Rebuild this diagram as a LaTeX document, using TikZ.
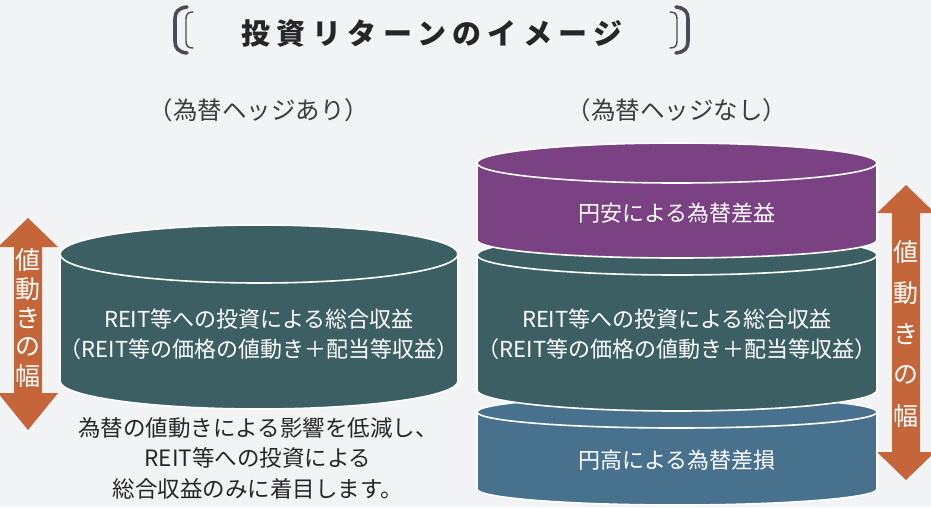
\documentclass[tikz,border=0pt]{standalone}
\usepackage{fontspec}
\setmainfont{Noto Sans CJK JP}
\newfontfamily\jptitle[LetterSpace=22]{Noto Sans CJK JP}
\definecolor{bgc}{HTML}{F2F3F5}
\definecolor{tealc}{HTML}{3C5F64}
\definecolor{purpc}{HTML}{7A4282}
\definecolor{bluec}{HTML}{48718D}
\definecolor{orngc}{HTML}{C4663A}
\definecolor{brk}{HTML}{4B4B57}
\definecolor{txtc}{HTML}{262626}
% cylinder: cx, top centre y, bottom centre y, rx, ry(top), ry(bottom), colour
\newcommand{\mycyl}[7]{%
  \filldraw[fill=#7, draw=white, line width=1.6pt, line join=round]
    ({#1-#4},#2) -- ({#1-#4},#3)
    arc[start angle=180, end angle=360, x radius=#4pt, y radius=#6pt]
    -- ({#1+#4},#2)
    arc[start angle=0, end angle=180, x radius=#4pt, y radius=#5pt] -- cycle;
  \draw[white, line width=1.6pt] ({#1-#4},#2)
    arc[start angle=180, end angle=360, x radius=#4pt, y radius=#5pt];
}
% double arrow: cx, top tip, top base, bottom base, bottom tip, shaft half, head half
\newcommand{\myarrow}[7]{%
  \fill[orngc] (#1,#2) -- ({#1+#7},#3) -- ({#1+#6},#3) -- ({#1+#6},#4)
    -- ({#1+#7},#4) -- (#1,#5) -- ({#1-#7},#4) -- ({#1-#6},#4)
    -- ({#1-#6},#3) -- ({#1-#7},#3) -- cycle;
}
\begin{document}
\begin{tikzpicture}[x=1pt,y=-1pt,
  every node/.style={inner sep=0pt},
  titletxt/.style={font=\jptitle\bfseries\fontsize{29pt}{32pt}\selectfont, text=txtc},
  subtxt/.style={font=\fontsize{24.5pt}{28pt}\selectfont, text=txtc!90!white},
  cyltxt/.style={font=\fontsize{22pt}{30pt}\selectfont, text=white, align=center},
  notetxt/.style={font=\fontsize{22.5pt}{30.5pt}\selectfont, text=txtc, align=center},
  arrtxt/.style={font=\fontsize{25pt}{26pt}\selectfont, text=white}]
\fill[bgc] (0,0) rectangle (931,507);
\useasboundingbox (0,0) rectangle (931,507);

% title brackets
\draw[brk, line width=3.6pt, line cap=round]
  (187,7) .. controls (178,8) and (175,12) .. (175,19) -- (175,41)
  .. controls (175,48) and (178,52) .. (187,53);
\draw[brk, line width=1.4pt, line cap=round]
  (193,12) .. controls (188,12) and (186,14) .. (186,19) -- (186,41)
  .. controls (186,46) and (188,48) .. (193,48);
\draw[brk, line width=3.6pt, line cap=round]
  (676,7) .. controls (685,8) and (688,12) .. (688,19) -- (688,41)
  .. controls (688,48) and (685,52) .. (676,53);
\draw[brk, line width=1.4pt, line cap=round]
  (670,12) .. controls (675,12) and (677,14) .. (677,19) -- (677,41)
  .. controls (677,46) and (675,48) .. (670,48);
\node[titletxt] (title) at (432,34) {投資リターンのイメージ};

% subtitles
\node[subtxt] (subL) at (259,110) {（為替ヘッジあり）};
\node[subtxt] (subR) at (677,110) {（為替ヘッジなし）};

% left cylinder
\mycyl{259}{254}{381}{199}{29}{28}{tealc}
\node[cyltxt] (cylL) at (259,334) {REIT等への投資による総合収益\\（REIT等の価格の値動き＋配当等収益）};

% right stack
\mycyl{677}{412}{489}{200}{16}{16}{bluec}
\mycyl{677}{255}{390}{200}{20}{21}{tealc}
\mycyl{677}{163}{240}{200}{20}{18}{purpc}
\node[cyltxt] (cylP) at (677,213) {円安による為替差益};
\node[cyltxt] (cylG) at (677,334) {REIT等への投資による総合収益\\（REIT等の価格の値動き＋配当等収益）};
\node[cyltxt] (cylB) at (677,460) {円高による為替差損};

% note
\node[notetxt] (note) at (258,458) {為替の値動きによる影響を低減し、\\REIT等への投資による\\総合収益のみに着目します。};

% arrows
\myarrow{28}{218}{247}{393}{430}{14}{30}
\myarrow{906}{185}{213}{452}{480}{14}{29}
\foreach \c [count=\i from 0] in {値,動,き,の,幅}{
  \node[arrtxt] (la\i) at (28,{260+29*\i}) {\c};
  \node[arrtxt] (ra\i) at (906,{252+41*\i}) {\c};
}
\end{tikzpicture}
\end{document}
